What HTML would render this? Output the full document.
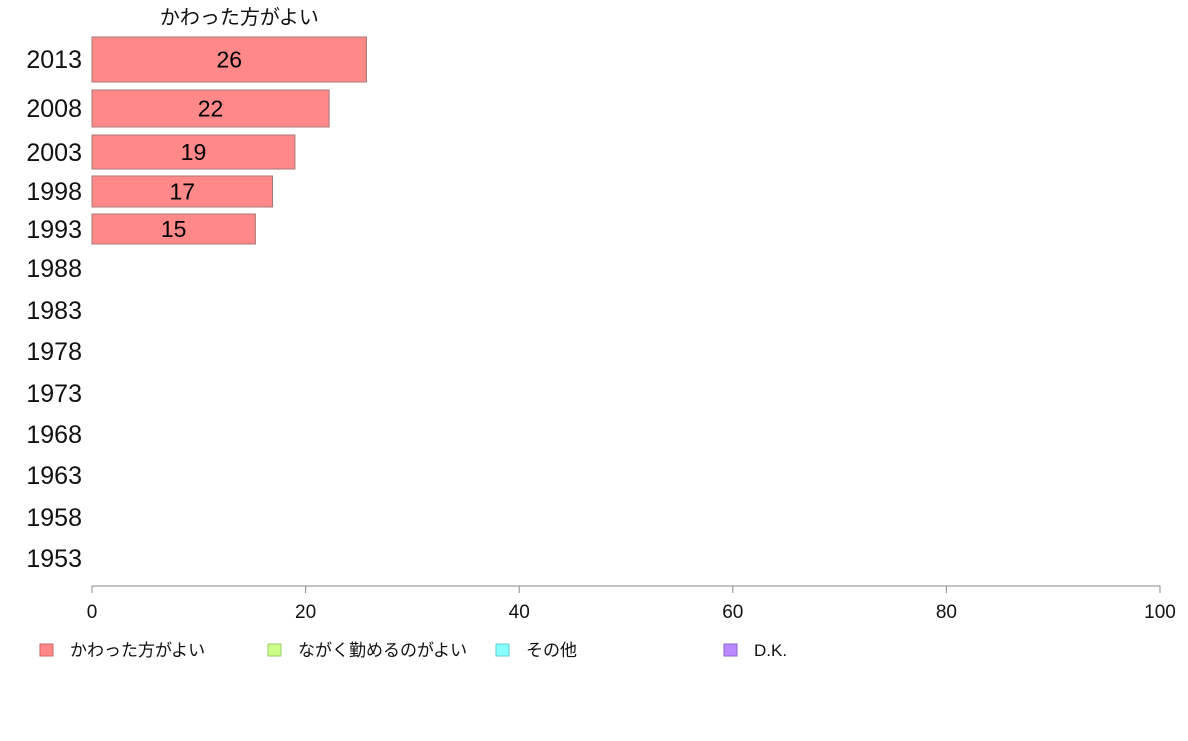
<!DOCTYPE html>
<html><head><meta charset="utf-8">
<style>
body{margin:0;background:#fff;}
svg text{font-family:"Liberation Sans","Noto Sans CJK JP",sans-serif;}
</style></head>
<body>
<svg id="chart" width="1188" height="736" xmlns="http://www.w3.org/2000/svg"></svg>
<script>
const years = ["2013","2008","2003","1998","1993","1988","1983","1978","1973","1968","1963","1958","1953"];
const values = [25.7, 22.2, 19.0, 16.9, 15.3, null, null, null, null, null, null, null, null];
const valueLabels = ["26","22","19","17","15"];
const xTicks = [0,20,40,60,80,100];
const legendLabels = ["かわった方がよい","ながく勤めるのがよい","その他","D.K."];
// layout (not data)
const rowTop = [37,90,135,176,214];
const rowBottom = [82,127,169,207,244];
const labelY = [60,109,153,192,230,269,311,352,394,435,476,518,559];
const legendX = [40,268,496,724];
const legendColors = ["#ff8888","#ccff88","#88ffff","#bb88ff"];
const legendStroke = ["#cc6666","#99cc66","#66cccc","#8866cc"];

const svg = document.getElementById('chart');
const NS = "http://www.w3.org/2000/svg";
const x = v => 92 + v * (1160 - 92) / 100;
function mk(tag, attrs, text){
  const e = document.createElementNS(NS, tag);
  for (const k in attrs) e.setAttribute(k, attrs[k]);
  if (text !== undefined) e.textContent = text;
  svg.appendChild(e);
  return e;
}
let t = mk('text',{x:x(13.8),y:24,'font-size':20,'text-anchor':'middle',fill:'#111'},"かわった方がよい");



years.forEach((yr,i)=>{
  const l = mk('text',{x:82,y:labelY[i]+8,'font-size':25,'text-anchor':'end',fill:'#111'},yr);
  
  
  if (values[i] != null && i < rowTop.length){
    const r = mk('rect',{x:x(0),y:rowTop[i],width:x(values[i])-x(0),height:rowBottom[i]-rowTop[i],fill:'#ff8888',stroke:'#aa7777','stroke-width':1});
    
    
    const v = mk('text',{x:(x(0)+x(values[i]))/2,y:(rowTop[i]+rowBottom[i])/2+8,'font-size':23,'text-anchor':'middle',fill:'#000'},valueLabels[i]);
    
    
  }
});

const ax = mk('line',{x1:x(0),y1:586,x2:x(100),y2:586,stroke:'#888','stroke-width':1});


xTicks.forEach(v=>{
  const tk = mk('line',{x1:x(v),y1:586,x2:x(v),y2:593,stroke:'#888','stroke-width':1});
  
  
  const tl = mk('text',{x:x(v),y:618,'font-size':19,'text-anchor':'middle',fill:'#111'},String(v));
  
  
});

legendLabels.forEach((lab,i)=>{
  const sw = mk('rect',{x:legendX[i],y:644,width:13,height:12,fill:legendColors[i],stroke:legendStroke[i],'stroke-width':1});
  
  
  const lt = mk('text',{x:legendX[i]+30,y:656,'font-size':17,fill:'#111'},lab);
  
  
});
</script>
</body></html>
